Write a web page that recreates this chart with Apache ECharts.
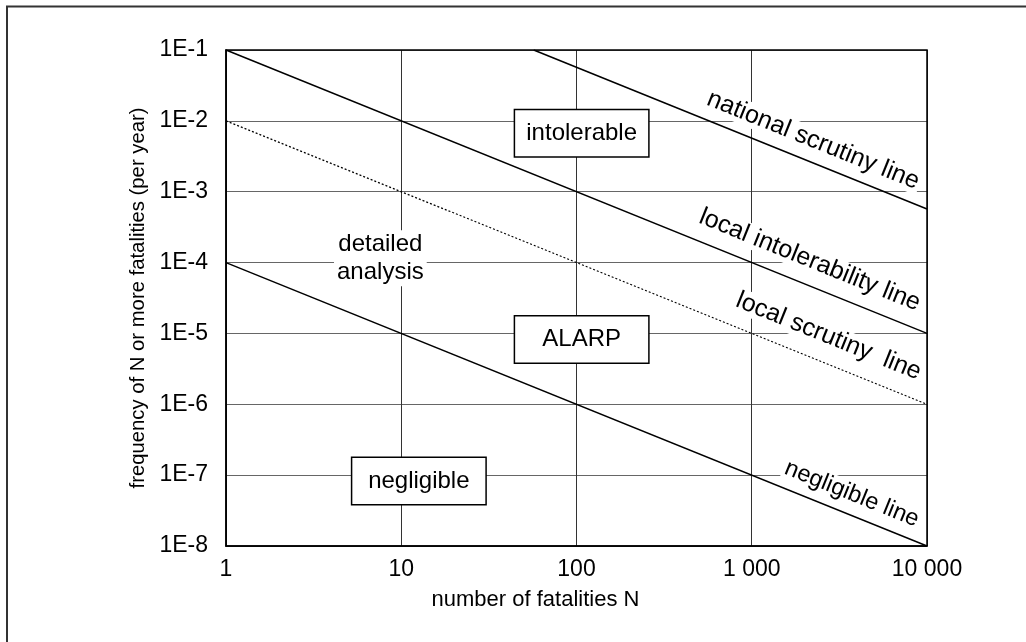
<!DOCTYPE html>
<html><head><meta charset="utf-8">
<script src="https://cdn.jsdelivr.net/npm/echarts@6/dist/echarts.min.js"></script>
<style>html,body{margin:0;padding:0;background:#fff}#c{width:1026px;height:642px}</style>
</head><body><div id="c"></div>
<script>
// ---- data ----
const xTickLabels = ['1', '10', '100', '1 000', '10 000'];
const yTickLabels = ['1E-8', '1E-7', '1E-6', '1E-5', '1E-4', '1E-3', '1E-2', '1E-1'];

const lineNames = ['national scrutiny line', 'local intolerability line', 'local scrutiny  line', 'negligible line'];
const nationalN = [57, 10000];
const nationalF = [1e-1, 5.7e-4];
const intolerabilityN = [1, 10000];
const intolerabilityF = [1e-1, 1e-5];
const localScrutinyN = [1, 10000];
const localScrutinyF = [1e-2, 1e-6];
const negligibleN = [1, 10000];
const negligibleF = [1e-4, 1e-8];

const regionLabels = ['intolerable', 'ALARP', 'negligible', 'detailed\nanalysis'];
const regionN = [107, 107, 12.6, 7.6];
const regionF = [6.7e-3, 8.2e-6, 8.3e-8, 1.15e-4];

// ---- chart ----
const FONT = '"Liberation Sans", Arial, Helvetica, sans-serif';
const chart = echarts.init(document.getElementById('c'), null, {renderer: 'canvas'});

function pairs(ns, fs) { return ns.map((n, i) => [n, fs[i]]); }
const seriesData = [
  pairs(nationalN, nationalF),
  pairs(intolerabilityN, intolerabilityF),
  pairs(localScrutinyN, localScrutinyF),
  pairs(negligibleN, negligibleF)
];

const option = {
  animation: false,
  backgroundColor: '#fff',
  grid: {left: 226, right: 99, top: 50, bottom: 96, containLabel: false},
  xAxis: {
    type: 'log', logBase: 10, min: 1, max: 10000,
    name: 'number of fatalities N', nameLocation: 'middle', nameGap: 43,
    nameTextStyle: {fontFamily: FONT, fontSize: 22, color: '#000', padding: [0, 82, 0, 0]},
    axisLine: {show: true, lineStyle: {color: '#000', width: 1.5}},
    axisTick: {show: false},
    minorTick: {show: false},
    axisLabel: {
      fontFamily: FONT, fontSize: 23, color: '#000', margin: 12,
      formatter: v => xTickLabels[Math.round(Math.log10(v))]
    },
    splitLine: {show: true, lineStyle: {color: '#333', width: 1}}
  },
  yAxis: {
    type: 'log', logBase: 10, min: 1e-8, max: 1e-1,
    name: 'frequency of N or more fatalities (per year)', nameLocation: 'middle', nameGap: 72,
    nameTextStyle: {fontFamily: FONT, fontSize: 20.3, color: '#000'},
    axisLine: {show: true, lineStyle: {color: '#000', width: 1.5}},
    axisTick: {show: false},
    axisLabel: {
      fontFamily: FONT, fontSize: 23, color: '#000', margin: 18,
      formatter: v => yTickLabels[Math.round(Math.log10(v)) + 8]
    },
    splitLine: {show: true, lineStyle: {color: '#666', width: 1}}
  },
  series: seriesData.map((d, i) => ({
    name: lineNames[i], type: 'line', data: d, symbol: 'none', silent: true, z: 5,
    lineStyle: {color: '#000', width: i === 2 ? 1.2 : 1.5, type: i === 2 ? [2, 2] : 'solid'}
  }))
};
chart.setOption(option);

// ---- annotations placed through the axes ----
const toPx = p => chart.convertToPixel({xAxisIndex: 0, yAxisIndex: 0}, p);
const graphics = [];

// labels along lines
const lineLabelOffset = [21, 24, 26, 20];
const lineLabelSize = [25, 25, 25, 23.5];
seriesData.forEach((d, i) => {
  const p0 = toPx(d[0]), p1 = toPx(d[d.length - 1]);
  const dx = p1[0] - p0[0], dy = p1[1] - p0[1];
  const len = Math.hypot(dx, dy);
  const ux = dx / len, uy = dy / len;
  const nx = uy, ny = -ux;
  const s = 16, off = lineLabelOffset[i];
  graphics.push({
    type: 'text', z: 3, silent: true,
    x: p1[0] - s * ux + off * nx,
    y: p1[1] - s * uy + off * ny,
    rotation: -Math.atan2(dy, dx),
    style: {
      text: lineNames[i], font: lineLabelSize[i] + 'px ' + FONT, fill: '#000',
      align: 'right', verticalAlign: 'middle',
      backgroundColor: '#fff', padding: [0, 2]
    }
  });
});

// region labels
const mctx = document.createElement('canvas').getContext('2d');
mctx.font = '24px ' + FONT;
regionLabels.forEach((t, i) => {
  const p = toPx([regionN[i], regionF[i]]);
  const boxed = t.indexOf('\n') < 0;
  let style;
  if (boxed) {
    const w = mctx.measureText(t).width;
    const ph = Math.max(4, (133 - w) / 2);
    style = {
      text: t, font: '24px ' + FONT, fill: '#000', align: 'center', verticalAlign: 'middle',
      lineHeight: 28, backgroundColor: '#fff', borderColor: '#000', borderWidth: 1.5,
      padding: [9, ph]
    };
  } else {
    style = {
      text: t, font: '24px ' + FONT, fill: '#000', align: 'center', verticalAlign: 'middle',
      lineHeight: 28, backgroundColor: '#fff', padding: [0, 3]
    };
  }
  graphics.push({type: 'text', z: 3, silent: true, x: p[0], y: p[1], style});
});

// plot frame
const tl = toPx([1, 1e-1]), br = toPx([10000, 1e-8]);
graphics.push({
  type: 'rect', z: 10, silent: true,
  shape: {x: tl[0], y: tl[1], width: br[0] - tl[0], height: br[1] - tl[1]},
  style: {fill: null, stroke: '#000', lineWidth: 1.5}
});
// outer border
graphics.push({
  type: 'rect', z: 10, silent: true,
  shape: {x: 7, y: 6.5, width: 1100, height: 700},
  style: {fill: null, stroke: '#333', lineWidth: 2}
});

chart.setOption({graphic: {elements: graphics}});
</script>
</body></html>
